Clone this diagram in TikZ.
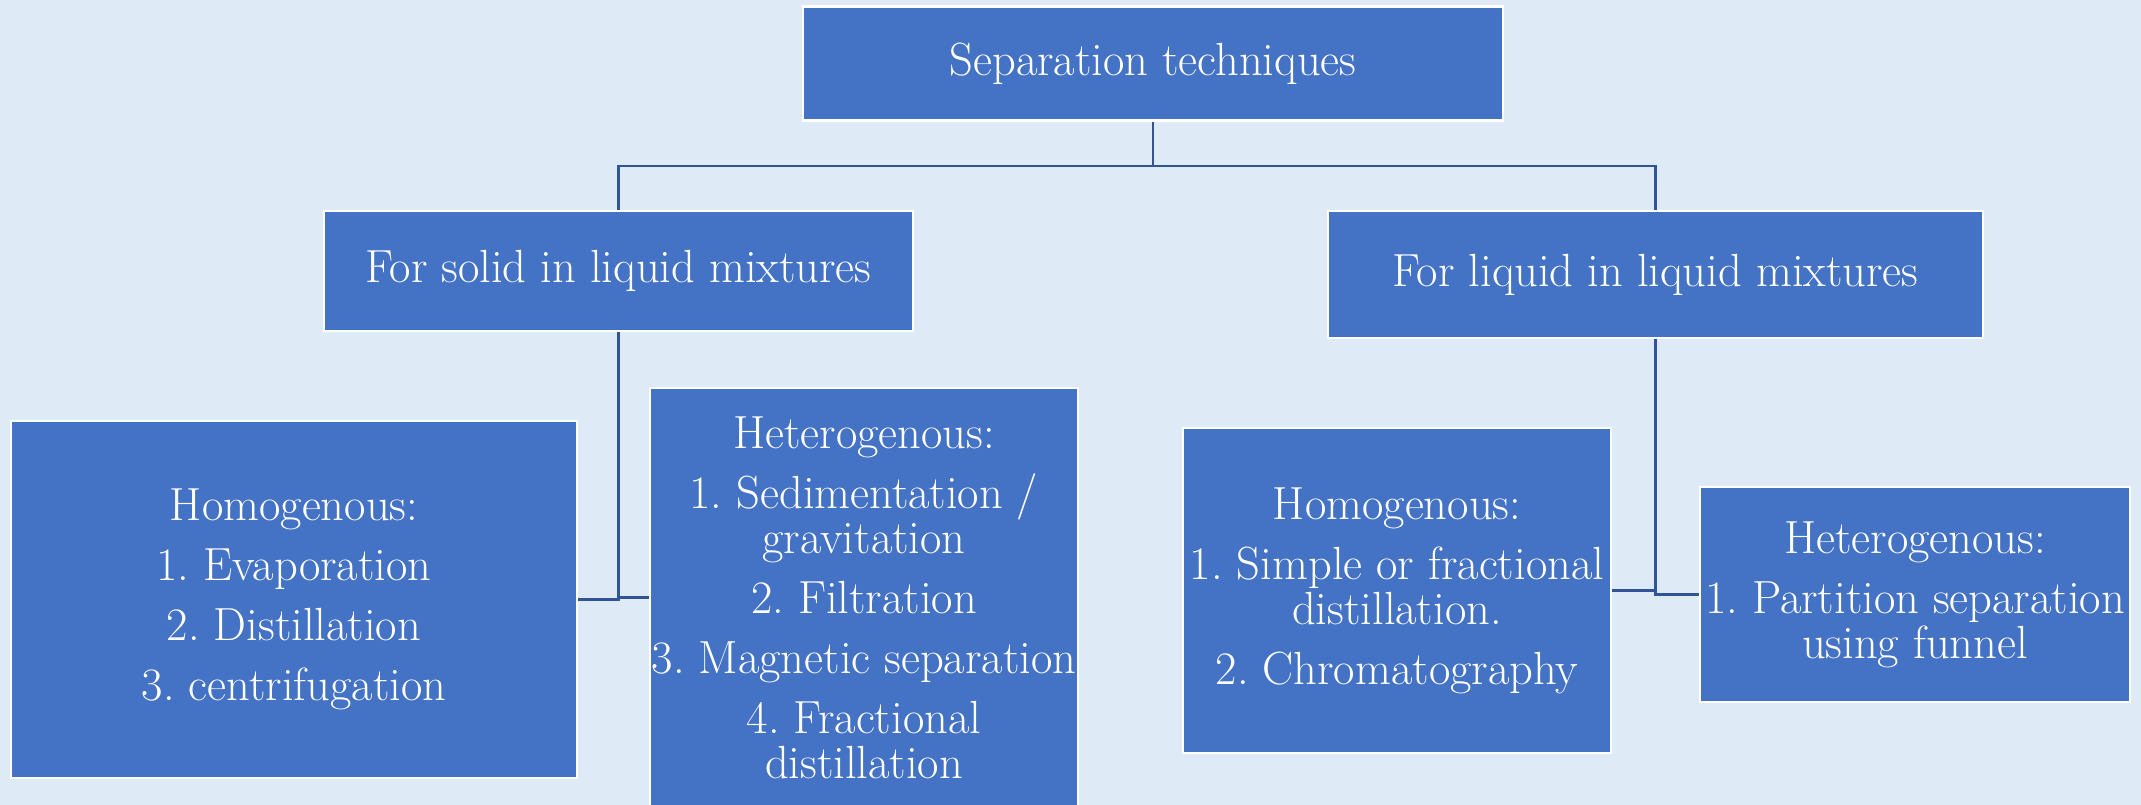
\documentclass[tikz,border=0pt]{standalone}
\definecolor{bg}{HTML}{DEEAF6}
\definecolor{boxc}{HTML}{4472C4}
\definecolor{linec}{HTML}{2F5597}
\frenchspacing
\tikzset{
  box/.style={fill=boxc, draw=white, line width=2.5pt, text=white, align=center,
    inner sep=0pt, font=\fontsize{46.5}{45}\selectfont},
  conn/.style={draw=linec, line width=2.2pt}
}
\begin{document}
\begin{tikzpicture}[x=1pt,y=-1pt]
\fill[bg] (0,0) rectangle (2141,805);
\useasboundingbox (0,0) rectangle (2141,805);
\clip (0,0) rectangle (2141,805);

\node[box, minimum width=700pt, minimum height=114pt] (top) at (1153,63.5) {Separation techniques};
\node[box, minimum width=589pt, minimum height=120pt] (solid) at (618.5,271) {For solid in liquid mixtures};
\node[box, minimum width=655pt, minimum height=127pt] (liquid) at (1655.5,274.5) {For liquid in liquid mixtures};

\node[box, minimum width=566pt, minimum height=357pt] (lhom) at (294,599.5)
  {Homogenous:\\[15pt] 1. Evaporation\\[15pt] 2. Distillation\\[15pt] 3. centrifugation};
\node[box, minimum width=428pt, minimum height=419pt] (lhet) at (864,597.5)
  {Heterogenous:\\[15pt] 1. Sedimentation /\\ gravitation\\[15pt] 2. Filtration\\[15pt] 3. Magnetic separation\\[15pt] 4. Fractional\\ distillation};
\node[box, minimum width=428pt, minimum height=325pt] (rhom) at (1397,590.5)
  {Homogenous:\\[15pt] 1. Simple or fractional\\ distillation.\\[15pt] 2. Chromatography};
\node[box, minimum width=430pt, minimum height=215pt] (rhet) at (1915,594.5)
  {Heterogenous:\\[15pt] 1. Partition separation\\ using funnel};

\coordinate (mid) at (0,166);
\draw[conn] (top.south) -- (top.south |- mid) -| (solid.north);
\draw[conn] (top.south) -- (top.south |- mid) -| (liquid.north);
\draw[conn] (solid.south) |- (lhom.east);
\draw[conn] (solid.south) |- (lhet.west);
\draw[conn] (liquid.south) |- (rhom.east);
\draw[conn] (liquid.south) |- (rhet.west);
\end{tikzpicture}
\end{document}
